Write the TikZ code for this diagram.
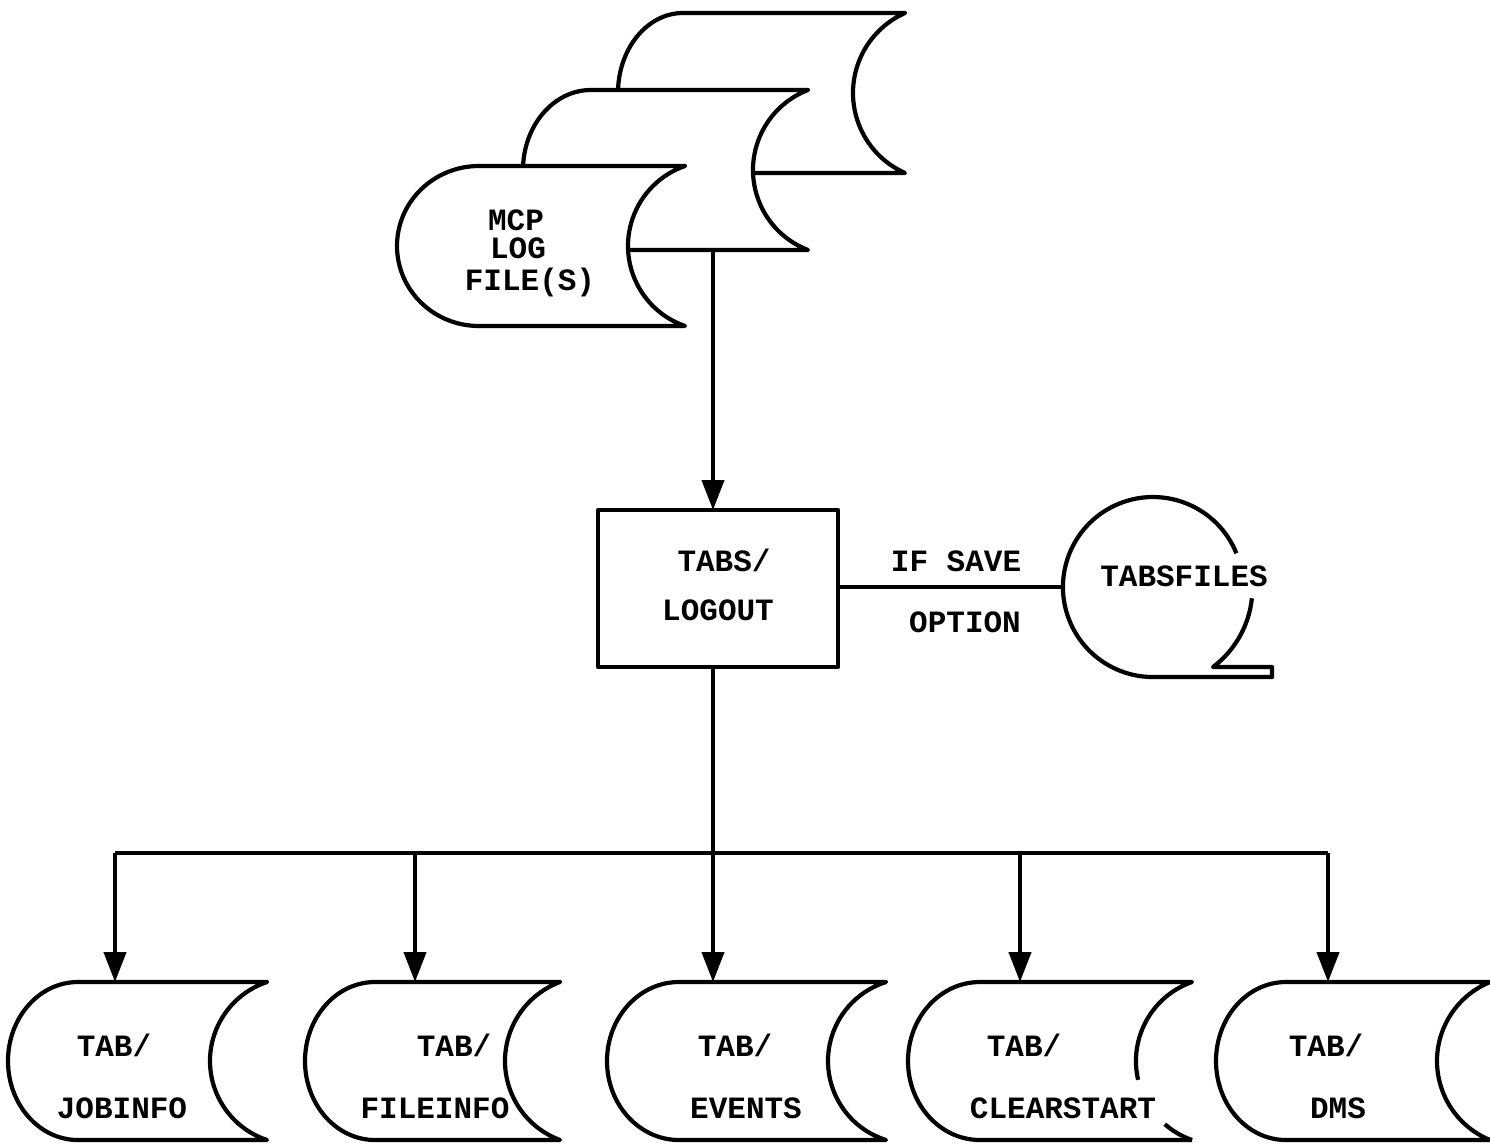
\documentclass[tikz,border=0pt]{standalone}
\usepackage{fontspec}
\newfontfamily\cour{Liberation Mono}
\usetikzlibrary{arrows.meta}
\tikzset{
 ln/.style={line width=4.2pt, line join=round},
 arr/.style={ln, -{Triangle[length=30pt,width=22pt]}},
 lbl/.style={font=\cour\bfseries\fontsize{31}{33}\selectfont, inner sep=0pt, anchor=base},
 sdline/.style={ln, fill=white},
}
% stored-data shape: #1 left x, #2 top y, #3 tip x, #4 left arc width, #5 height, #6 concave depth
\newcommand\sdshape[6]{%
 \pgfmathsetmacro\sdrad{((#5/2)^2+(#6)^2)/(2*(#6))}%
 \pgfmathsetmacro\sdphi{asin((#5/2)/\sdrad)}%
 \draw[sdline] (#3,-#2) -- ({#1+#4},-#2)
   arc[start angle=90,end angle=270,x radius=#4,y radius=#5/2]
   -- (#3,{-#2-#5})
   arc[start angle=180+\sdphi,end angle=180-\sdphi,radius=\sdrad] -- cycle;
}
\begin{document}
\begin{tikzpicture}[x=1pt,y=1pt]
\useasboundingbox[fill=white] (0,0) rectangle (1490,-1144);

% stacked log files
\sdshape{618}{13}{905}{65}{160}{52}
\sdshape{523}{90}{808}{68}{160}{55}
\sdshape{397}{166}{685}{82}{160}{57}
\node[lbl] (mcp) at (516,-230) {MCP};
\node[lbl] (log) at (518,-258) {LOG};
\node[lbl] (files) at (530,-290) {FILE(S)};
\coordinate (logbot) at (713,-250);

% process box
\draw[ln] (598,-510) rectangle (838,-667);
\coordinate (boxtop) at (713,-510);
\coordinate (boxbot) at (713,-667);
\coordinate (boxright) at (838,-587);
\node[lbl] (tabs) at (724,-571) {TABS/};
\node[lbl] (logout) at (718,-620) {LOGOUT};

\draw[arr] (logbot) -- (boxtop);

% tape
\draw[ln] (1236.4,-553.3) arc[start angle=22,end angle=270,radius=90]
  -- (1272,-677) -- (1272,-667) -- (1213,-667)
  arc[start angle=-53,end angle=-6,radius=99];
\coordinate (tapeleft) at (1063,-587);
\node[lbl] (tabsfiles) at (1184,-586) {TABSFILES};

\draw[ln] (boxright) -- (tapeleft);
\node[lbl] (ifsave) at (956,-571) {IF SAVE};
\node[lbl] (option) at (965,-632) {OPTION};

% output files
\sdshape{8}{982}{267}{70}{158}{57}
\sdshape{305}{982}{560}{70}{158}{55}
\sdshape{607}{982}{886}{72}{158}{58}
% CLEARSTART (broken concave side)
\fill[white] (1192,-982) -- (980,-982)
   arc[start angle=90,end angle=270,x radius=72,y radius=79]
   -- (1192,-1140) arc[start angle=250.7,end angle=109.3,radius=83.7] -- cycle;
\draw[ln] (1192,-1140) -- (980,-1140)
   arc[start angle=270,end angle=90,x radius=72,y radius=79]
   -- (1192,-982) arc[start angle=109.3,end angle=193,radius=83.7];
\draw[ln] (1192,-1140) arc[start angle=250.7,end angle=229,radius=83.7];
\sdshape{1216}{982}{1490}{70}{158}{53}

\node[lbl] (t1) at (114,-1056) {TAB/};
\node[lbl] (jobinfo) at (122,-1118) {JOBINFO};
\node[lbl] (t2) at (454,-1056) {TAB/};
\node[lbl] (fileinfo) at (435,-1118) {FILEINFO};
\node[lbl] (t3) at (735,-1056) {TAB/};
\node[lbl] (events) at (746,-1118) {EVENTS};
\node[lbl] (t4) at (1024,-1056) {TAB/};
\node[lbl] (clearstart) at (1063,-1118) {CLEARSTART};
\node[lbl] (t5) at (1326,-1056) {TAB/};
\node[lbl] (dms) at (1338,-1118) {DMS};

\coordinate (s1) at (115,-982);
\coordinate (s2) at (415,-982);
\coordinate (s3) at (713,-982);
\coordinate (s4) at (1020,-982);
\coordinate (s5) at (1328,-982);
\coordinate (b1) at (115,-853);
\coordinate (b2) at (415,-853);
\coordinate (b4) at (1020,-853);
\coordinate (b5) at (1328,-853);

\draw[ln] (b1) -- (b5);
\draw[arr] (boxbot) -- (s3);
\draw[arr] (b1) -- (s1);
\draw[arr] (b2) -- (s2);
\draw[arr] (b4) -- (s4);
\draw[arr] (b5) -- (s5);
\end{tikzpicture}
\end{document}
